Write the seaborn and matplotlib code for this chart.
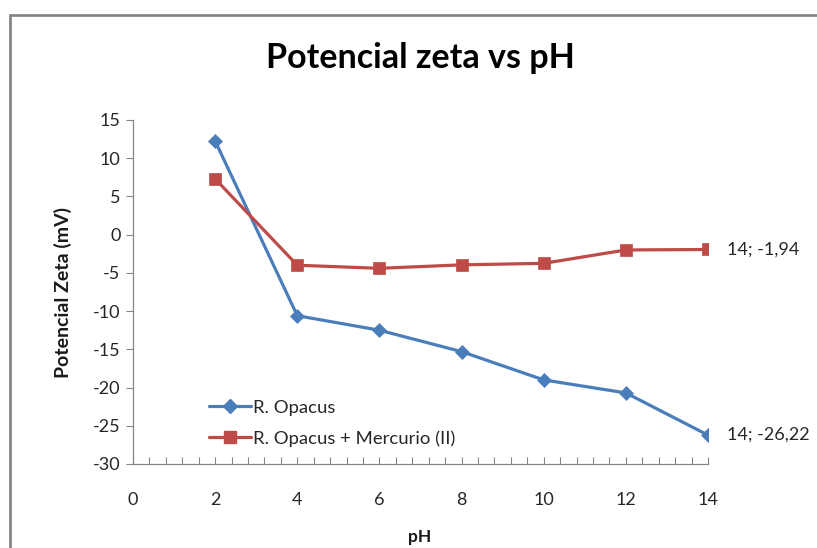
import matplotlib
matplotlib.use("Agg")
import matplotlib.pyplot as plt
from matplotlib.ticker import MultipleLocator
from matplotlib.lines import Line2D
import seaborn as sns
import pandas as pd

ph = [2, 4, 6, 8, 10, 12, 14]
opacus = [12.25, -10.6, -12.5, -15.3, -19.0, -20.7, -26.22]
mercurio = [7.3, -4.0, -4.4, -3.95, -3.75, -2.0, -1.94]
series_names = ["R. Opacus", "R. Opacus + Mercurio (II)"]
labels_end = ["14; -26,22", "14; -1,94"]

sns.set_theme(style="white")
plt.rcParams["font.family"] = ["Lato", "DejaVu Sans"]
plt.rcParams["axes.unicode_minus"] = False

fig = plt.figure(figsize=(8.17, 5.48), dpi=100)
W, H = 817, 548
ax = fig.add_axes([133 / W, 1 - 464 / H, (708 - 133) / W, (464 - 120) / H])

blue = "#4A7EBB"
red = "#BE4B48"

df1 = pd.DataFrame({"pH": ph, "zeta": opacus})
df2 = pd.DataFrame({"pH": ph, "zeta": mercurio})
sns.lineplot(data=df1, x="pH", y="zeta", ax=ax, color=blue, lw=2.3,
             marker="D", markersize=7, markeredgecolor=blue, markeredgewidth=0.5)
sns.lineplot(data=df2, x="pH", y="zeta", ax=ax, color=red, lw=2.3,
             marker="s", markersize=9, markeredgecolor=red, markeredgewidth=0.5)

ax.set_xlim(0, 14)
ax.set_ylim(-30, 15)
ax.set_xticks(range(0, 15, 2))
ax.set_yticks(range(-30, 16, 5))
ax.xaxis.set_minor_locator(MultipleLocator(0.4))
ax.tick_params(axis="x", which="both", direction="in", length=5, width=0.8,
               color="#868686", bottom=True, labelsize=13, labelcolor="#262626", pad=20)
ax.tick_params(axis="y", which="major", direction="out", length=5, width=0.8,
               color="#868686", left=True, labelsize=13, labelcolor="#262626", pad=4)
for s in ["top", "right"]:
    ax.spines[s].set_visible(False)
for s in ["left", "bottom"]:
    ax.spines[s].set_color("#868686")
    ax.spines[s].set_linewidth(0.9)
ax.grid(False)

ax.set_xlabel("")
fig.text(420 / W, 1 - 537 / H, "pH", ha="center", va="center",
         fontsize=12.5, fontweight="bold", color="#1a1a1a")
ax.set_ylabel("")
fig.text(63 / W, 1 - 293 / H, "Potencial Zeta (mV)", ha="center", va="center",
         rotation=90, fontsize=14, fontweight="bold", color="#1a1a1a")

fig.text(420 / W, 1 - 58 / H, "Potencial zeta vs pH", ha="center", va="center",
         fontsize=24.5, fontweight="bold", color="black")

ax.annotate(labels_end[1], xy=(ph[-1], mercurio[-1]), xytext=(19, 0),
            textcoords="offset pixels", ha="left", va="center", fontsize=13, color="#262626")
ax.annotate(labels_end[0], xy=(ph[-1], opacus[-1]), xytext=(19, 0),
            textcoords="offset pixels", ha="left", va="center", fontsize=13, color="#262626")

handles = [
    Line2D([], [], color=blue, lw=2.3, marker="D", markersize=7, markeredgecolor=blue),
    Line2D([], [], color=red, lw=2.3, marker="s", markersize=9, markeredgecolor=red),
]
fig.legend(handles, series_names, loc="upper left",
           bbox_to_anchor=(203 / W, 1 - 394 / H), frameon=False, fontsize=13.3,
           handlelength=2.3, handletextpad=0.1, labelspacing=0.8,
           labelcolor="#262626", borderaxespad=0, borderpad=0.3)

# chart border (partially cropped)
fig.add_artist(Line2D([10 / W, 1.0], [1 - 15 / H, 1 - 15 / H], color="#868686", lw=2))
fig.add_artist(Line2D([10 / W, 10 / W], [0, 1 - 15 / H], color="#868686", lw=2))

fig.savefig("out.png", dpi=100)
